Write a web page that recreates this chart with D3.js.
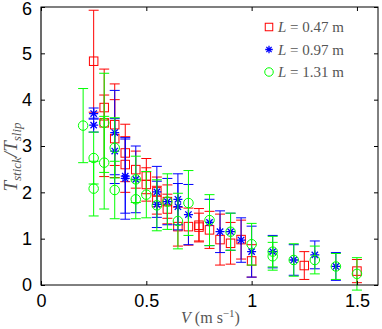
<!DOCTYPE html>
<html>
<head>
<meta charset="utf-8">
<script src="https://cdn.jsdelivr.net/npm/d3@7"></script>
<style>
  body { margin: 0; background: #fff; }
  svg { display: block; }
  .tick text { font-family: "Liberation Sans", Arial, sans-serif; }
</style>
</head>
<body>
<svg id="chart"></svg>
<script>
const width = 382;
const height = 329;

const margin = {top: 7, right: 4, bottom: 44, left: 41};

// L = 0.47 m
const redV = [0.25, 0.30, 0.30, 0.35, 0.35, 0.40, 0.40, 0.45, 0.50, 0.50, 0.55, 0.55, 0.60, 0.60, 0.65, 0.70, 0.75, 0.75, 0.80, 0.85, 0.90, 0.95, 1.00, 1.25, 1.50];
const redY = [4.83, 3.83, 3.50, 3.46, 3.16, 2.85, 2.60, 2.49, 2.35, 2.17, 2.01, 1.83, 1.80, 1.64, 1.26, 1.26, 1.29, 1.25, 1.19, 0.98, 0.90, 0.98, 0.52, 0.42, 0.30];
const redE = [1.10, 0.27, 1.16, 0.88, 0.84, 0.62, 0.60, 0.40, 0.38, 0.36, 0.32, 0.30, 0.36, 0.32, 0.42, 0.40, 0.36, 0.30, 0.40, 0.55, 0.45, 0.42, 0.35, 0.30, 0.25];

// L = 0.97 m
const blueV = [0.25, 0.25, 0.35, 0.35, 0.40, 0.40, 0.45, 0.55, 0.55, 0.60, 0.65, 0.65, 0.70, 0.80, 0.85, 0.90, 0.95, 1.00, 1.10, 1.20, 1.30, 1.40];
const blueY = [3.70, 3.45, 3.29, 2.89, 2.35, 2.30, 2.28, 2.01, 1.74, 1.80, 1.85, 1.69, 1.52, 1.35, 1.15, 1.15, 0.97, 0.72, 0.72, 0.54, 0.65, 0.40];
const blueE = [0.12, 0.15, 0.91, 0.70, 0.80, 0.88, 0.72, 0.55, 0.50, 0.50, 0.55, 0.50, 0.65, 0.50, 0.45, 0.40, 0.48, 0.55, 0.35, 0.33, 0.30, 0.30];

// L = 1.31 m
const greenV = [0.20, 0.25, 0.25, 0.30, 0.30, 0.35, 0.35, 0.45, 0.45, 0.50, 0.55, 0.60, 0.65, 0.70, 0.80, 0.90, 1.00, 1.10, 1.10, 1.20, 1.30, 1.40, 1.50];
const greenY = [3.44, 2.74, 2.08, 3.50, 2.64, 2.96, 2.05, 2.28, 1.85, 1.95, 1.72, 1.80, 1.38, 1.77, 1.40, 1.15, 0.88, 0.72, 0.62, 0.54, 0.54, 0.40, 0.24];
const greenE = [0.80, 0.56, 0.59, 1.07, 1.00, 0.65, 0.62, 0.50, 0.42, 0.50, 0.55, 0.60, 0.60, 0.70, 0.55, 0.40, 0.45, 0.33, 0.30, 0.35, 0.30, 0.28, 0.35];

const xTicks = [0, 0.5, 1, 1.5];
const yTicks = [0, 1, 2, 3, 4, 5, 6];
const legendLabels = ["0.47", "0.97", "1.31"];

const series = [
  {v: redV, y: redY, e: redE, color: "#ff0000", marker: "square"},
  {v: blueV, y: blueY, e: blueE, color: "#0000ff", marker: "star"},
  {v: greenV, y: greenY, e: greenE, color: "#00ff00", marker: "circle"}
];

const svg = d3.select("#chart")
  .attr("width", width)
  .attr("height", height)
  .attr("viewBox", [0, 0, width, height]);

const x = d3.scaleLinear().domain([0, 1.6]).range([margin.left, width - margin.right]);
const y = d3.scaleLinear().domain([0, 6]).range([height - margin.bottom, margin.top]);

const capW = 5;

function drawMarker(g, type, color, s) {
  if (type === "square") {
    g.append("rect")
      .attr("x", -s / 2).attr("y", -s / 2)
      .attr("width", s).attr("height", s)
      .attr("fill", "none").attr("stroke", color).attr("stroke-width", 1);
  } else if (type === "circle") {
    g.append("circle")
      .attr("r", s / 2 + 0.5)
      .attr("fill", "none").attr("stroke", color).attr("stroke-width", 1);
  } else {
    const r = s / 2;
    const d = r * Math.SQRT1_2;
    g.append("path")
      .attr("d", `M${-r},0L${r},0M0,${-r}L0,${r}M${-d},${-d}L${d},${d}M${-d},${d}L${d},${-d}`)
      .attr("fill", "none").attr("stroke", color).attr("stroke-width", 1.3);
  }
}

// error bars + markers, red first, green on top
series.forEach(s => {
  const pts = s.v.map((v, i) => ({v, y: s.y[i], e: s.e[i]}));
  const g = svg.append("g");

  const bars = g.selectAll("g.bar")
    .data(pts)
    .join("g")
      .attr("class", "bar")
      .attr("stroke", s.color)
      .attr("stroke-width", 1);

  bars.append("line")
    .attr("x1", d => x(d.v)).attr("x2", d => x(d.v))
    .attr("y1", d => y(d.y + d.e)).attr("y2", d => y(d.y - d.e));
  bars.append("line")
    .attr("x1", d => x(d.v) - capW).attr("x2", d => x(d.v) + capW)
    .attr("y1", d => y(d.y + d.e)).attr("y2", d => y(d.y + d.e));
  bars.append("line")
    .attr("x1", d => x(d.v) - capW).attr("x2", d => x(d.v) + capW)
    .attr("y1", d => y(d.y - d.e)).attr("y2", d => y(d.y - d.e));

  pts.forEach(d => {
    const m = g.append("g").attr("transform", `translate(${x(d.v)},${y(d.y)})`);
    drawMarker(m, s.marker, s.color, s.marker === "star" ? 9 : 8.5);
  });
});

// axes box
const x0 = x(0), x1 = x(1.6), y0 = y(0), y1 = y(6);
svg.append("rect")
  .attr("x", x0).attr("y", y1)
  .attr("width", x1 - x0).attr("height", y0 - y1)
  .attr("fill", "none").attr("stroke", "#000").attr("stroke-width", 1);
svg.append("line")
  .attr("x1", x0).attr("x2", x0).attr("y1", y1).attr("y2", y0)
  .attr("stroke", "#666").attr("stroke-width", 1.6);

const tickLen = 4;

// bottom axis
const xAxis = svg.append("g")
  .attr("transform", `translate(0,${y0})`)
  .call(d3.axisBottom(x).tickValues(xTicks).tickFormat(d3.format("")).tickSizeInner(-tickLen).tickSizeOuter(0).tickPadding(9));
xAxis.select(".domain").remove();
xAxis.selectAll("text").attr("font-size", 18).attr("fill", "#000");

// top ticks
svg.append("g")
  .attr("transform", `translate(0,${y1})`)
  .call(d3.axisTop(x).tickValues(xTicks).tickFormat("").tickSizeInner(-tickLen).tickSizeOuter(0))
  .select(".domain").remove();

// left axis
const yAxis = svg.append("g")
  .attr("transform", `translate(${x0},0)`)
  .call(d3.axisLeft(y).tickValues(yTicks).tickFormat(d3.format("d")).tickSizeInner(-tickLen).tickSizeOuter(0).tickPadding(9));
yAxis.select(".domain").remove();
yAxis.selectAll("text").attr("font-size", 18).attr("fill", "#000");
// top label sits against the page edge; nudge it down a touch
yAxis.selectAll(".tick text").filter(d => d === 6).attr("y", 1.5);

// right ticks
svg.append("g")
  .attr("transform", `translate(${x1},0)`)
  .call(d3.axisRight(y).tickValues(yTicks).tickFormat("").tickSizeInner(-tickLen).tickSizeOuter(0))
  .select(".domain").remove();

// axis titles
const serif = "'Liberation Serif', 'DejaVu Serif', serif";
const xt = svg.append("text")
  .attr("x", (x0 + x1) / 2 + 1).attr("y", 323)
  .attr("text-anchor", "middle")
  .attr("font-family", serif).attr("font-size", 16).attr("fill", "#555");
xt.append("tspan").attr("font-style", "italic").text("V");
xt.append("tspan").text(" (m s");
xt.append("tspan").attr("font-size", 11).attr("dy", -6).text("\u22121");
xt.append("tspan").attr("dy", 6).text(")");

const yt = svg.append("text")
  .attr("transform", `translate(17,157) rotate(-90)`)
  .attr("text-anchor", "middle")
  .attr("font-family", serif).attr("font-size", 19).attr("fill", "#555")
  .attr("font-style", "italic");
yt.append("tspan").text("T");
yt.append("tspan").attr("font-size", 13).attr("dy", 4).text("stick");
yt.append("tspan").attr("dy", -4).text("/T");
yt.append("tspan").attr("font-size", 13).attr("dy", 4).text("slip");

// legend
const legend = svg.append("g");
series.forEach((s, i) => {
  const ly = 27 + i * 22.5;
  const m = legend.append("g").attr("transform", `translate(269,${ly})`);
  drawMarker(m, s.marker, s.color, 7.5);
  const t = legend.append("text")
    .attr("x", 278).attr("y", ly + 5)
    .attr("font-family", serif).attr("font-size", 15).attr("fill", "#555");
  t.append("tspan").attr("font-style", "italic").text("L");
  t.append("tspan").text(` = ${legendLabels[i]} m`);
});
</script>
</body>
</html>
